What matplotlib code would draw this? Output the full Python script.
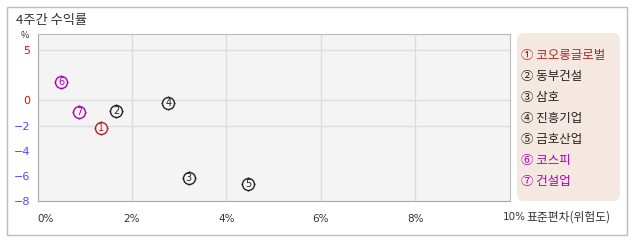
import numpy as np
import matplotlib.pyplot as plt
from matplotlib.patches import FancyBboxPatch, Rectangle

plt.rcParams['font.family'] = ['Noto Sans CJK KR', 'DejaVu Sans']

# data
names = ['코오롱글로벌', '동부건설', '삼호', '진흥기업', '금호산업', '코스피', '건설업']
marks = ['①', '②', '③', '④', '⑤', '⑥', '⑦']
nums = ['1', '2', '3', '4', '5', '6', '7']
risk = [1.34, 1.67, 3.20, 2.77, 4.47, 0.50, 0.88]       # 표준편차 %
ret4w = [-2.17, -0.83, -6.14, -0.17, -6.61, 1.85, -0.93]  # 4주간 수익률 %
colors = ['#b22222', '#222222', '#222222', '#222222', '#222222', '#aa00bb', '#aa00bb']

yticks = [5, 0, -2, -4, -6, -8]
ytick_colors = ['#ff0000', '#ff0000', '#4a4aff', '#4a4aff', '#4a4aff', '#4a4aff']
xticks = [0, 2, 4, 6, 8]
hgrid = [5, 0, -2]
vgrid = [2, 4, 6, 8]

W, H = 638, 242
fig = plt.figure(figsize=(W / 100, H / 100), dpi=100)

# outer frame
fig.patches.append(Rectangle((7 / W, 1 - 235 / H), 620 / W, 228 / H, transform=fig.transFigure,
                             fill=False, edgecolor='#bbbbbb', linewidth=1))
fig.text(16 / W, 1 - 20.5 / H, '4주간 수익률', fontsize=9.5, color='#333333', va='center', ha='left')
fig.text(25 / W, 1 - 36 / H, '%', fontsize=6.5, color='#333333', va='center', ha='center')

ax = fig.add_axes([37.5 / W, 1 - 201 / H, 472 / W, 167 / H])
ax.set_facecolor('#f4f4f4')

# y axis: positive part is compressed compared to negative part
k = 0.8
fwd = lambda y: np.where(y > 0, y * k, y)
inv = lambda y: np.where(y > 0, y / k, y)
ax.set_yscale('function', functions=(fwd, inv))
ax.set_ylim(-8, 6.6)
ax.set_xlim(0, 10)

for g in hgrid:
    ax.axhline(g, color='#dddddd', linewidth=1, zorder=1)
for g in vgrid:
    ax.axvline(g, color='#dddddd', linewidth=1, zorder=1)

for s in ax.spines.values():
    s.set_color('#bbbbbb')
ax.spines['left'].set_color('#aaaaaa')
ax.spines['bottom'].set_color('#aaaaaa')

ax.set_yticks(yticks)
ax.set_yticklabels(['−' + str(-v) if v < 0 else str(v) for v in yticks], fontsize=8)
for lab, c in zip(ax.get_yticklabels(), ytick_colors):
    lab.set_color(c)
    lab.set_family('DejaVu Sans')
ax.set_xticks(xticks)
ax.set_xticklabels([f'{v}%' for v in xticks], fontsize=7.5, color='#333333', family='DejaVu Sans')
ax.get_xticklabels()[0].set_horizontalalignment('left')
ax.tick_params(length=0, pad=5)
ax.tick_params(axis='x', pad=9)
fig.text(503 / W, 1 - 217 / H, '10%', fontsize=7.5, color='#333333', va='center', ha='left',
         family='DejaVu Sans')
fig.text(526 / W, 1 - 217 / H, '표준편차(위험도)', fontsize=8.5, color='#333333', va='center', ha='left')

# points: circled numbers with small ticks
for x, y, n, c in zip(risk, ret4w, nums, colors):
    ax.plot(x, y, marker='+', markersize=10.5, color=c, mew=1, zorder=3)
    ax.plot(x, y, marker='o', markersize=8.6, mfc='#f4f4f4', mec=c, mew=1, zorder=4)
    ax.text(x, y, n, fontsize=7, color=c, ha='center', va='center', zorder=5,
            family='DejaVu Sans')

# legend box
fig.patches.append(FancyBboxPatch((517 / W, 1 - 201 / H), 103 / W, 168 / H,
                                  boxstyle='round,pad=0,rounding_size=0.011',
                                  transform=fig.transFigure, facecolor='#f5e8e0',
                                  edgecolor='none', mutation_aspect=W / H))
for i, (m, name, c) in enumerate(zip(marks, names, colors)):
    fig.text(521 / W, 1 - (55 + 21.1 * i) / H, f'{m} {name}', fontsize=9, color=c,
             va='center', ha='left')

fig.savefig('out.png', dpi=100)
